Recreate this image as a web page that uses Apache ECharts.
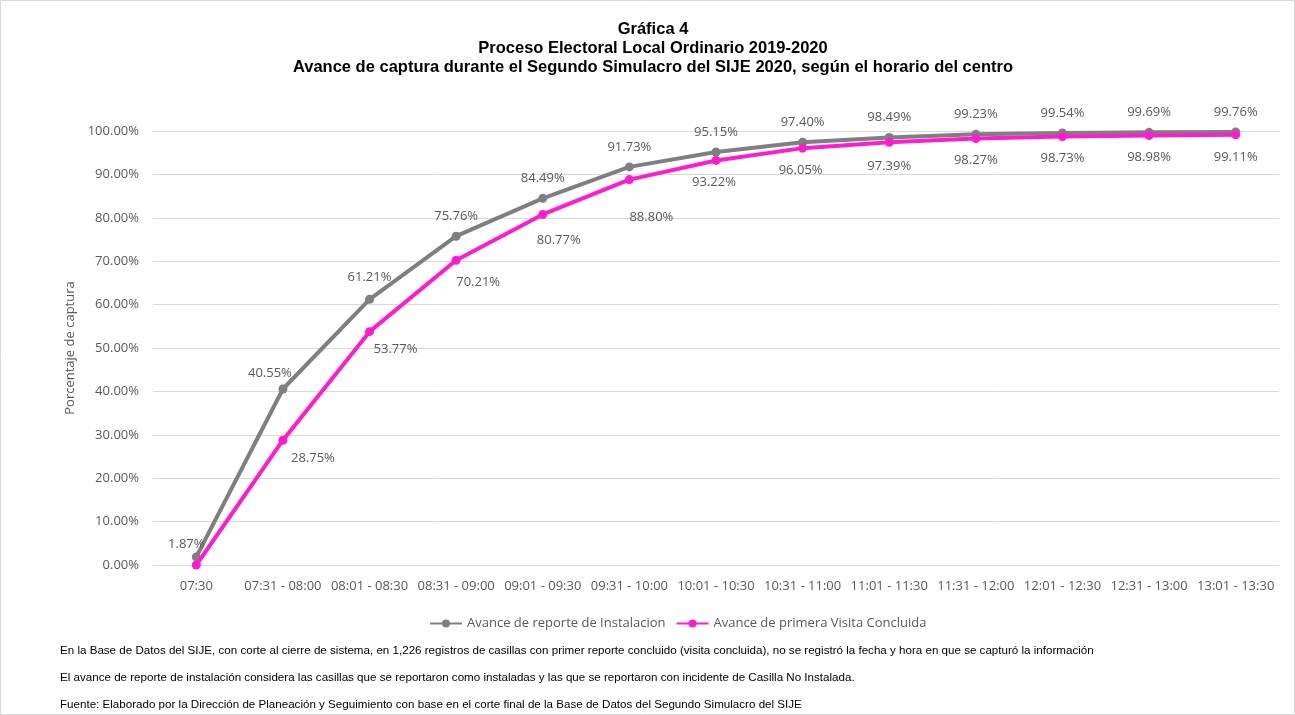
<!DOCTYPE html>
<html><head><meta charset="utf-8">
<script src="https://cdn.jsdelivr.net/npm/echarts@6/dist/echarts.min.js"></script>
<style>html,body{margin:0;padding:0;background:#fff}#c{width:1295px;height:715px}</style>
</head><body><div id="c"></div>
<script>
const categories = ['07:30','07:31 - 08:00','08:01 - 08:30','08:31 - 09:00','09:01 - 09:30','09:31 - 10:00','10:01 - 10:30','10:31 - 11:00','11:01 - 11:30','11:31 - 12:00','12:01 - 12:30','12:31 - 13:00','13:01 - 13:30'];
const instalacion = [1.87, 40.55, 61.21, 75.76, 84.49, 91.73, 95.15, 97.40, 98.49, 99.23, 99.54, 99.69, 99.76];
const visita = [0.00, 28.75, 53.77, 70.21, 80.77, 88.80, 93.22, 96.05, 97.39, 98.27, 98.73, 98.98, 99.11];
const yTicks = [0, 10, 20, 30, 40, 50, 60, 70, 80, 90, 100];
const titleLines = ['Gráfica 4','Proceso Electoral Local Ordinario 2019-2020','Avance de captura durante el Segundo Simulacro del SIJE 2020, según el horario del centro'];
const notes = [
 'En la Base de Datos del SIJE, con corte al cierre de sistema, en 1,226 registros de casillas con primer reporte concluido (visita concluida), no se registró la fecha y hora en que se capturó la información',
 'El avance de reporte de instalación considera las casillas que se reportaron como instaladas y las que se reportaron con incidente de Casilla No Instalada.',
 'Fuente: Elaborado por la Dirección de Planeación y Seguimiento con base en el corte final de la Base de Datos del Segundo Simulacro del SIJE'
];

const GRAY = '#7f7f7f', PINK = '#ff1ccf', TXT = '#595959';
const lblFont = {fontFamily:'Open Sans', fontSize:13, color:TXT};

// label placement tweaks (style only)
const grayOffsets = [[-10,7],[-13,4],[0,-2],[0,0],[0,0],[0,0],[0,0],[0,0],[0,0],[0,0],[0,0],[0,0],[0,0]];
const pinkOffsets = [[0,0],[30,-4],[26,-4],[22,0],[16,4],[22,16],[-2,0],[-2,0],[0,2],[0,0],[0,0],[0,0],[0,0]];

const grayData = instalacion.map((v,i)=>({value:v, label:{offset:grayOffsets[i]}}));
const pinkData = visita.map((v,i)=>({value:v, label:{show: i!==0, offset:pinkOffsets[i]}}));

const chart = echarts.init(document.getElementById('c'), null, {renderer:'canvas'});
const titleFont = {fontFamily:'Liberation Sans', fontWeight:'bold', fontSize:16.5, color:'#000'};
chart.setOption({
  animation:false,
  backgroundColor:'#fff',
  title: titleLines.map((t,i)=>({text:t, left:648, textAlign:'center', top:16+i*19, textStyle:titleFont})),
  legend:{
    bottom:80, left:424, itemWidth:32, itemHeight:10, itemGap:10,
    textStyle:{fontFamily:'Open Sans', fontSize:13, color:TXT},
    data:['Avance de reporte de Instalacion','Avance de primera Visita Concluida']
  },
  grid:{left:153, right:16, top:131, bottom:150},
  xAxis:{
    type:'category', data:categories, boundaryGap:true,
    axisLine:{lineStyle:{color:'#d9d9d9'}}, axisTick:{show:false},
    axisLabel:{fontFamily:'Open Sans', fontSize:13, color:TXT, margin:15, interval:0}
  },
  yAxis:{
    type:'value', min:yTicks[0], max:yTicks[yTicks.length-1], interval:10,
    name:'Porcentaje de captura', nameLocation:'middle', nameGap:72, nameRotate:90,
    nameTextStyle:{fontFamily:'Open Sans', fontSize:13, color:TXT},
    axisLine:{show:false}, axisTick:{show:false},
    splitLine:{lineStyle:{color:'#d9d9d9'}},
    axisLabel:{fontFamily:'Open Sans', fontSize:13, color:TXT, margin:14, formatter:v=>v.toFixed(2)+'%'}
  },
  series:[
    {name:'Avance de reporte de Instalacion', type:'line', data:grayData, symbol:'circle', symbolSize:9,
     lineStyle:{width:4, color:GRAY}, itemStyle:{color:GRAY}, z:2,
     label:{show:true, position:'top', distance:9, ...lblFont, formatter:p=>p.value.toFixed(2)+'%'}},
    {name:'Avance de primera Visita Concluida', type:'line', data:pinkData, symbol:'circle', symbolSize:9,
     lineStyle:{width:4, color:PINK}, itemStyle:{color:PINK}, z:3,
     label:{show:true, position:'bottom', distance:11, ...lblFont, formatter:p=>p.value.toFixed(2)+'%'}}
  ],
  graphic:[
    {type:'rect', shape:{x:0.5,y:0.5,width:1294,height:714}, style:{fill:'none', stroke:'#d9d9d9', lineWidth:1}, silent:true},
    ...notes.map((t,i)=>({type:'text', left:60, top:645+i*27, style:{text:t, font:'11.6px "Liberation Sans", Arial', fill:'#000'}}))
  ]
});
</script></body></html>
